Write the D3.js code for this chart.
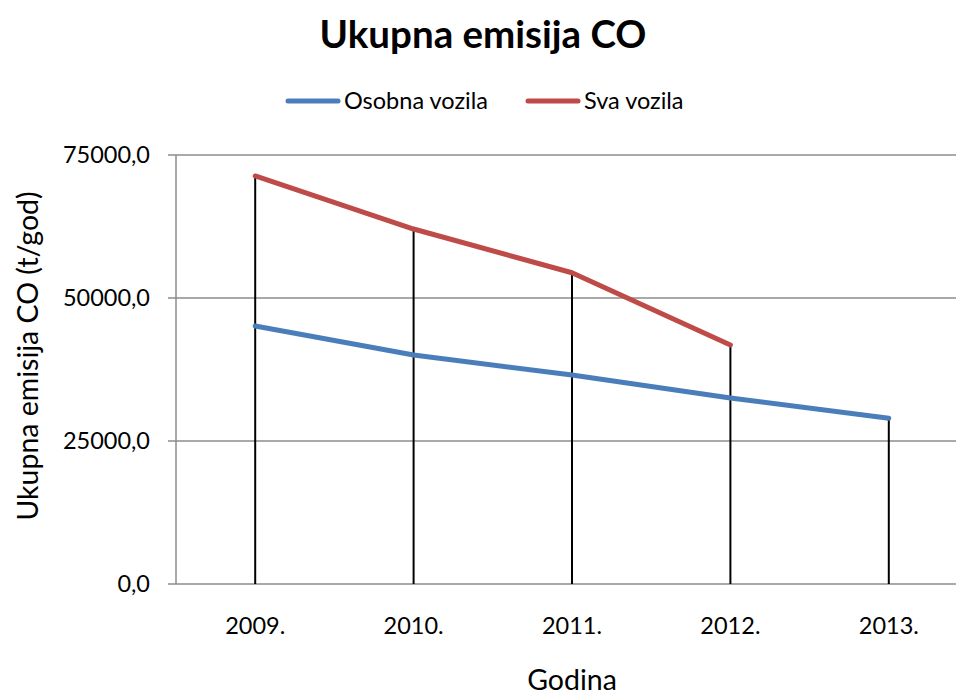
<!DOCTYPE html>
<html>
<head>
<meta charset="utf-8">
<script src="https://cdn.jsdelivr.net/npm/d3@7/dist/d3.min.js"></script>
<style>
  html, body { margin: 0; padding: 0; background: #fff; overflow: hidden; }
  svg { display: block; font-family: Lato, "Open Sans", sans-serif; }
</style>
</head>
<body>
<svg id="chart" width="956" height="695"></svg>
<script>
// Emission data (t/god) per year
const years = ["2009.", "2010.", "2011.", "2012.", "2013."];
const osobnaVozila = [45100, 40030, 36540, 32520, 28970];
const svaVozila = [71330, 62060, 54420, 41780, null];
const yTicks = [0, 25000, 50000, 75000];
const seriesNames = ["Osobna vozila", "Sva vozila"];
const seriesColors = ["#4A7EBB", "#BE4B48"];

const svg = d3.select("#chart");
const plot = { left: 176, right: 968, top: 155, bottom: 584 };

const x = d3.scalePoint().domain(years).range([plot.left, plot.right]).padding(0.5);
const y = d3.scaleLinear().domain([0, 75000]).range([plot.bottom, plot.top]);

const fmt = v => d3.format(".1f")(v).replace(".", ",");

// Horizontal gridlines
svg.append("g").selectAll("line").data(yTicks).join("line")
  .attr("x1", plot.left - 8).attr("x2", plot.right)
  .attr("y1", d => y(d)).attr("y2", d => y(d))
  .attr("stroke", "#8c8c8c").attr("stroke-width", 1.5);

// Vertical axis line
svg.append("line")
  .attr("x1", plot.left).attr("x2", plot.left)
  .attr("y1", y(75000)).attr("y2", y(0))
  .attr("stroke", "#8c8c8c").attr("stroke-width", 1.5);

// Y tick labels
svg.append("g").selectAll("text").data(yTicks).join("text")
  .attr("x", 150).attr("y", d => y(d)).attr("dy", "0.35em")
  .attr("text-anchor", "end").attr("font-size", 23.5).attr("fill", "#000")
  .text(fmt);

// X tick labels
svg.append("g").selectAll("text").data(years).join("text")
  .attr("x", d => x(d)).attr("y", 634)
  .attr("text-anchor", "middle").attr("font-size", 23.5).attr("fill", "#000")
  .text(d => d);

// Drop lines from the highest point of each year to the axis
const highs = years.map((yr, i) => ({ yr, v: d3.max([osobnaVozila[i], svaVozila[i]]) }));
svg.append("g").selectAll("line").data(highs).join("line")
  .attr("x1", d => x(d.yr)).attr("x2", d => x(d.yr))
  .attr("y1", d => y(d.v)).attr("y2", y(0))
  .attr("stroke", "#000").attr("stroke-width", 2);

// Series lines
const line = d3.line()
  .defined(d => d.v != null)
  .x(d => x(d.yr)).y(d => y(d.v));

[osobnaVozila, svaVozila].forEach((vals, si) => {
  svg.append("path")
    .datum(years.map((yr, i) => ({ yr, v: vals[i] })))
    .attr("d", line)
    .attr("fill", "none")
    .attr("stroke", seriesColors[si])
    .attr("stroke-width", 5)
    .attr("stroke-linejoin", "round")
    .attr("stroke-linecap", "round");
});

// Title
svg.append("text")
  .attr("x", 483).attr("y", 48)
  .attr("text-anchor", "middle").attr("font-size", 38.5).attr("font-weight", "bold")
  .text("Ukupna emisija CO");

// Legend
const legendItems = [
  { name: seriesNames[0], color: seriesColors[0], x0: 288 },
  { name: seriesNames[1], color: seriesColors[1], x0: 528 }
];
const lg = svg.append("g");
legendItems.forEach(it => {
  lg.append("line")
    .attr("x1", it.x0).attr("x2", it.x0 + 50)
    .attr("y1", 101).attr("y2", 101)
    .attr("stroke", it.color).attr("stroke-width", 5).attr("stroke-linecap", "round");
  lg.append("text")
    .attr("x", it.x0 + 56).attr("y", 101).attr("dy", "0.35em")
    .attr("font-size", 23.5).text(it.name);
});

// Axis titles
svg.append("text")
  .attr("x", 572).attr("y", 690)
  .attr("text-anchor", "middle").attr("font-size", 28.5)
  .text("Godina");

svg.append("text")
  .attr("transform", "translate(38,356) rotate(-90)")
  .attr("text-anchor", "middle").attr("font-size", 28.5)
  .text("Ukupna emisija CO (t/god)");
</script>
</body>
</html>
